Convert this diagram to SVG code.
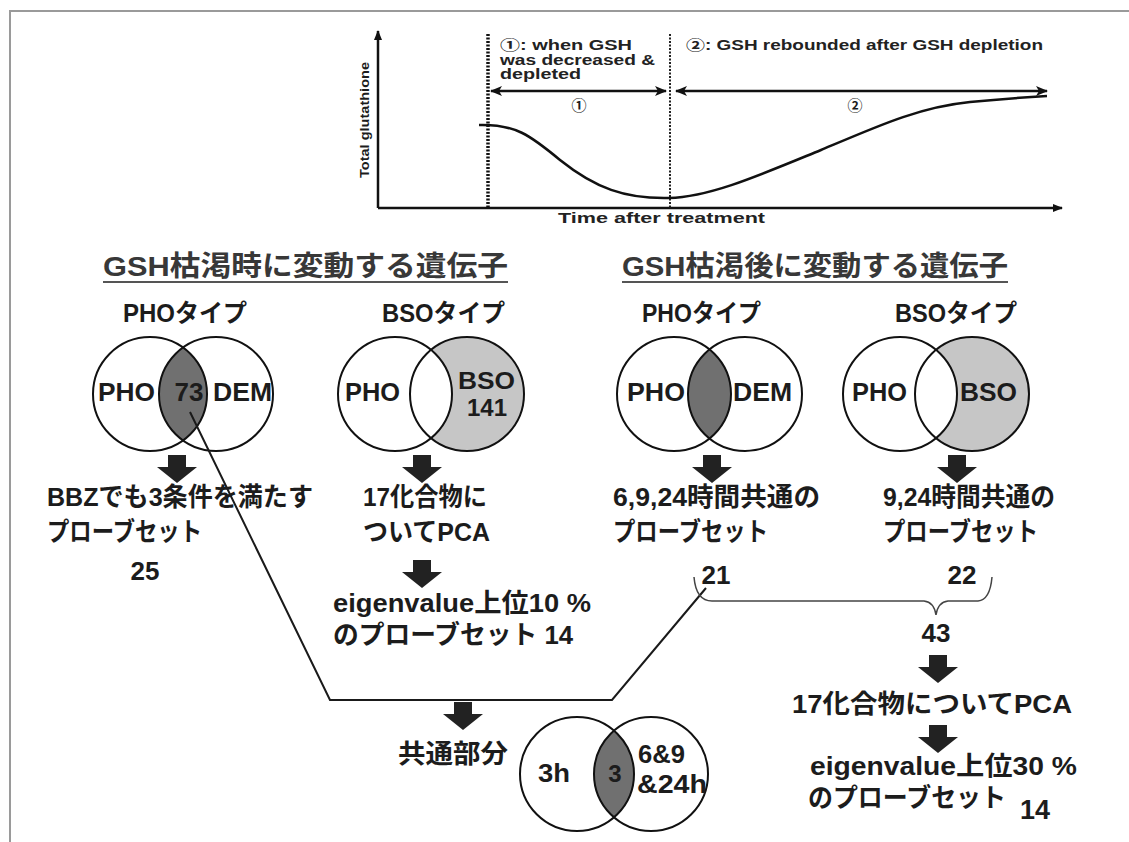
<svg xmlns="http://www.w3.org/2000/svg" width="1129" height="842" viewBox="0 0 1129 842">
<style>
.t{font-family:"Liberation Sans","Noto Sans CJK JP",sans-serif;font-weight:bold;fill:#1c1c1c}
.c{font-size:14px;fill:#222}
.h{font-size:28px;font-weight:bold;fill:#383838}
.s{font-size:25px}
.v{font-size:26px}
.m{font-size:26px}
.ring{fill:none;stroke:#111;stroke-width:2}
.dark{fill:#707070}
.light{fill:#c6c6c6}
.white{fill:#fff}
.ln{fill:none;stroke:#1a1a1a;stroke-width:2}
.ax{fill:none;stroke:#111;stroke-width:2.5}
</style>
<defs>
<marker id="ah" viewBox="0 0 12 10" refX="11" refY="5" markerWidth="12" markerHeight="10" markerUnits="userSpaceOnUse" orient="auto-start-reverse"><path d="M0,0 L12,5 L0,10 L3,5 Z" fill="#111"/></marker>
<marker id="ax" viewBox="0 0 10 10" refX="9" refY="5" markerWidth="10" markerHeight="10" markerUnits="userSpaceOnUse" orient="auto"><path d="M0,1 L10,5 L0,9 Z" fill="#111"/></marker>
<path id="blk" d="M-9,0 H9 V12 H20 L0,28 L-20,12 H-9 Z" fill="#222"/>
</defs>
<rect width="1129" height="842" fill="#fff"/>
<path d="M10,842 V11 H1129" fill="none" stroke="#9a9a9a" stroke-width="2"/>

<g id="chart">
<line class="ax" x1="378" y1="208" x2="378" y2="31" marker-end="url(#ax)"/>
<line class="ax" x1="378" y1="208" x2="1062" y2="208" marker-end="url(#ax)"/>
<line x1="488" y1="34" x2="488" y2="208" stroke="#111" stroke-width="3.5" stroke-dasharray="2,1.5"/>
<line x1="670" y1="34" x2="670" y2="208" stroke="#222" stroke-width="2" stroke-dasharray="2,1.5"/>
<line x1="491" y1="91" x2="666" y2="91" stroke="#111" stroke-width="2.5" marker-start="url(#ah)" marker-end="url(#ah)"/>
<line x1="676" y1="91" x2="1047" y2="91" stroke="#111" stroke-width="2.5" marker-start="url(#ah)" marker-end="url(#ah)"/>
<path d="M479,125 C515,124 530,135 560,160 C595,188 625,199 669,198 C710,197 760,175 821,150 C880,125 920,107 970,102 C1000,99 1030,97 1047,96" fill="none" stroke="#111" stroke-width="2.5"/>
<text class="t c" x="500" y="50" textLength="132" lengthAdjust="spacingAndGlyphs">①: when GSH</text>
<text class="t c" x="500" y="65" textLength="155" lengthAdjust="spacingAndGlyphs">was decreased &amp;</text>
<text class="t c" x="500" y="79" textLength="81" lengthAdjust="spacingAndGlyphs">depleted</text>
<text class="t c" x="686" y="50" textLength="357" lengthAdjust="spacingAndGlyphs">②: GSH rebounded after GSH depletion</text>
<text class="t" x="579" y="111" font-size="15" font-weight="normal" text-anchor="middle">①</text>
<text class="t" x="855" y="111" font-size="15" font-weight="normal" text-anchor="middle">②</text>
<text class="t c" x="558" y="223" textLength="207" lengthAdjust="spacingAndGlyphs">Time after treatment</text>
<text class="t" transform="translate(369,120) rotate(-90)" font-size="12" text-anchor="middle" textLength="116" lengthAdjust="spacingAndGlyphs">Total glutathione</text>
</g>

<g id="heading-left">
<text class="t h" x="103" y="276" textLength="405" lengthAdjust="spacingAndGlyphs">GSH枯渇時に変動する遺伝子</text>
<line x1="103" y1="282" x2="508" y2="282" stroke="#555" stroke-width="2"/>
</g>
<g id="heading-right">
<text class="t h" x="622" y="276" textLength="386" lengthAdjust="spacingAndGlyphs">GSH枯渇後に変動する遺伝子</text>
<line x1="622" y1="282" x2="1008" y2="282" stroke="#555" stroke-width="2"/>
</g>

<g id="venn-pho-1">
<text class="t s" x="123" y="322" textLength="124" lengthAdjust="spacingAndGlyphs">PHOタイプ</text>
<path class="dark" d="M183,347.5 A57,57 0 0 1 183,440.5 A57,57 0 0 1 183,347.5 Z"/>
<circle class="ring" cx="150" cy="394" r="57"/>
<circle class="ring" cx="216" cy="394" r="57"/>
<text class="t v" x="98" y="401" textLength="57" lengthAdjust="spacingAndGlyphs">PHO</text>
<text class="t v" x="189" y="401" text-anchor="middle">73</text>
<text class="t v" x="213" y="401" textLength="59" lengthAdjust="spacingAndGlyphs">DEM</text>
</g>

<g id="venn-bso-1">
<text class="t s" x="382" y="322" textLength="123" lengthAdjust="spacingAndGlyphs">BSOタイプ</text>
<circle class="light" cx="467" cy="394" r="57"/>
<path class="white" d="M431,349.8 A57,57 0 0 1 431,438.2 A57,57 0 0 1 431,349.8 Z"/>
<circle class="ring" cx="395" cy="394" r="57"/>
<circle class="ring" cx="467" cy="394" r="57"/>
<text class="t v" x="345" y="401" textLength="55" lengthAdjust="spacingAndGlyphs">PHO</text>
<text class="t" x="458" y="389" font-size="24" textLength="57" lengthAdjust="spacingAndGlyphs">BSO</text>
<text class="t" x="487" y="416" font-size="24" text-anchor="middle">141</text>
</g>

<g id="venn-pho-2">
<text class="t s" x="642" y="322" textLength="119" lengthAdjust="spacingAndGlyphs">PHOタイプ</text>
<path class="dark" d="M709.5,349.4 A57,57 0 0 1 709.5,438.6 A57,57 0 0 1 709.5,349.4 Z"/>
<circle class="ring" cx="674" cy="394" r="57"/>
<circle class="ring" cx="745" cy="394" r="57"/>
<text class="t v" x="627" y="401" textLength="58" lengthAdjust="spacingAndGlyphs">PHO</text>
<text class="t v" x="733" y="401" textLength="59" lengthAdjust="spacingAndGlyphs">DEM</text>
</g>

<g id="venn-bso-2">
<text class="t s" x="895" y="322" textLength="122" lengthAdjust="spacingAndGlyphs">BSOタイプ</text>
<circle class="light" cx="972" cy="394" r="57"/>
<path class="white" d="M936,349.8 A57,57 0 0 1 936,438.2 A57,57 0 0 1 936,349.8 Z"/>
<circle class="ring" cx="900" cy="394" r="57"/>
<circle class="ring" cx="972" cy="394" r="57"/>
<text class="t v" x="852" y="401" textLength="55" lengthAdjust="spacingAndGlyphs">PHO</text>
<text class="t v" x="960" y="401" textLength="57" lengthAdjust="spacingAndGlyphs">BSO</text>
</g>

<g id="connectors">
<path class="ln" d="M190,412 L330,700 L612,700 L706,588"/>
<path d="M694,577 Q696,601 712,601 L924,601 Q934,602 936,615 Q938,602 948,601 L978,601 Q990,600 992,577" fill="none" stroke="#444" stroke-width="1.5"/>
<use href="#blk" x="177" y="455"/>
<use href="#blk" x="422" y="455"/>
<use href="#blk" x="422" y="560"/>
<use href="#blk" x="712" y="455"/>
<use href="#blk" x="957" y="455"/>
<use href="#blk" x="463" y="702"/>
<use href="#blk" x="938" y="655"/>
<use href="#blk" x="938" y="725"/>
</g>

<g id="step-bbz">
<text class="t m" x="47" y="506" textLength="266" lengthAdjust="spacingAndGlyphs">BBZでも3条件を満たす</text>
<text class="t m" x="47" y="541" textLength="155" lengthAdjust="spacingAndGlyphs">プローブセット</text>
<text class="t m" x="145" y="580" text-anchor="middle">25</text>
</g>
<g id="step-pca-1">
<text class="t m" x="363" y="506" textLength="124" lengthAdjust="spacingAndGlyphs">17化合物に</text>
<text class="t m" x="363" y="541" textLength="127" lengthAdjust="spacingAndGlyphs">ついてPCA</text>
</g>
<g id="step-eigen-1">
<text class="t m" x="333" y="612" textLength="258" lengthAdjust="spacingAndGlyphs">eigenvalue上位10 %</text>
<text class="t m" x="333" y="644" textLength="240" lengthAdjust="spacingAndGlyphs">のプローブセット  14</text>
</g>
<g id="step-6924">
<text class="t m" x="613" y="506" textLength="207" lengthAdjust="spacingAndGlyphs">6,9,24時間共通の</text>
<text class="t m" x="613" y="541" textLength="155" lengthAdjust="spacingAndGlyphs">プローブセット</text>
<text class="t m" x="716" y="584" text-anchor="middle">21</text>
</g>
<g id="step-924">
<text class="t m" x="883" y="506" textLength="172" lengthAdjust="spacingAndGlyphs">9,24時間共通の</text>
<text class="t m" x="883" y="541" textLength="155" lengthAdjust="spacingAndGlyphs">プローブセット</text>
<text class="t m" x="962" y="584" text-anchor="middle">22</text>
</g>
<g id="step-43">
<text class="t m" x="936" y="642" text-anchor="middle">43</text>
</g>
<g id="step-pca-2">
<text class="t m" x="792" y="713" textLength="280" lengthAdjust="spacingAndGlyphs">17化合物についてPCA</text>
</g>
<g id="step-eigen-2">
<text class="t m" x="810" y="775" textLength="267" lengthAdjust="spacingAndGlyphs">eigenvalue上位30 %</text>
<text class="t m" x="808" y="807" textLength="198" lengthAdjust="spacingAndGlyphs">のプローブセット</text>
<text class="t" x="1020" y="819" font-size="27">14</text>
</g>
<g id="common">
<text class="t m" x="398" y="763" textLength="110" lengthAdjust="spacingAndGlyphs">共通部分</text>
</g>
<g id="venn-common">
<path class="dark" d="M614,730.6 A57,57 0 0 1 614,817.4 A57,57 0 0 1 614,730.6 Z"/>
<circle class="ring" cx="577" cy="774" r="57"/>
<circle class="ring" cx="651" cy="774" r="57"/>
<text class="t m" x="538" y="782" textLength="32" lengthAdjust="spacingAndGlyphs">3h</text>
<text class="t" x="615" y="782" font-size="24" font-weight="normal" text-anchor="middle">3</text>
<text class="t m" x="638" y="763" textLength="47" lengthAdjust="spacingAndGlyphs">6&amp;9</text>
<text class="t m" x="637" y="793" textLength="70" lengthAdjust="spacingAndGlyphs">&amp;24h</text>
</g>
</svg>
